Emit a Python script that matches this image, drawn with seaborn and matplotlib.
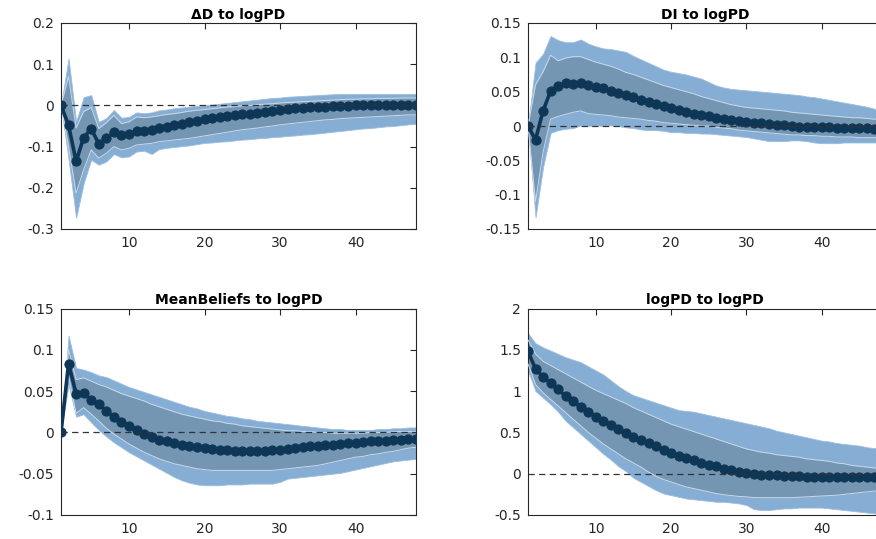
import matplotlib
matplotlib.use("Agg")
import numpy as np
import pandas as pd
import seaborn as sns
import matplotlib.pyplot as plt
from matplotlib.ticker import FuncFormatter

# ---------------- data ----------------
horizon = list(range(1, 49))

titles = ["\u0394D to logPD", "DI to logPD", "MeanBeliefs to logPD", "logPD to logPD"]

# Panel 1: dD to logPD
med1 = [0, -0.048, -0.136, -0.078, -0.057, -0.093, -0.080, -0.065, -0.072, -0.070,
        -0.062, -0.061, -0.059, -0.055, -0.052, -0.048, -0.045, -0.041, -0.037, -0.034,
        -0.031, -0.029, -0.026, -0.024, -0.022, -0.020, -0.018, -0.016, -0.013, -0.011,
        -0.009, -0.007, -0.006, -0.005, -0.004, -0.003, -0.002, -0.001, -0.001, 0.000,
        0.000, 0.000, 0.001, 0.001, 0.001, 0.001, 0.001, 0.001]
in_hi1 = [0, 0.070, -0.055, -0.015, -0.005, -0.056, -0.042, -0.024, -0.044, -0.040,
          -0.028, -0.030, -0.028, -0.025, -0.022, -0.020, -0.017, -0.014, -0.012, -0.010,
          -0.008, -0.006, -0.004, -0.003, -0.001, 0.000, 0.002, 0.003, 0.004, 0.006,
          0.007, 0.008, 0.009, 0.010, 0.011, 0.012, 0.013, 0.014, 0.015, 0.015,
          0.016, 0.016, 0.017, 0.017, 0.017, 0.018, 0.018, 0.018]
in_lo1 = [0, -0.100, -0.213, -0.156, -0.108, -0.128, -0.116, -0.100, -0.108, -0.104,
          -0.096, -0.094, -0.092, -0.088, -0.086, -0.084, -0.082, -0.080, -0.077, -0.074,
          -0.071, -0.068, -0.065, -0.062, -0.059, -0.057, -0.055, -0.052, -0.050, -0.047,
          -0.045, -0.043, -0.041, -0.039, -0.037, -0.035, -0.034, -0.032, -0.031, -0.030,
          -0.029, -0.028, -0.027, -0.026, -0.025, -0.024, -0.023, -0.023]
out_hi1 = [0, 0.114, -0.040, 0.020, 0.025, -0.040, -0.031, -0.011, -0.030, -0.028,
           -0.017, -0.019, -0.017, -0.012, -0.010, -0.007, -0.005, -0.003, -0.001, 0.000,
           0.002, 0.004, 0.006, 0.008, 0.010, 0.012, 0.014, 0.016, 0.018, 0.019,
           0.021, 0.022, 0.023, 0.024, 0.025, 0.026, 0.027, 0.028, 0.028, 0.028,
           0.028, 0.028, 0.028, 0.028, 0.028, 0.028, 0.028, 0.028]
out_lo1 = [0, -0.130, -0.273, -0.189, -0.132, -0.144, -0.136, -0.118, -0.126, -0.124,
           -0.112, -0.110, -0.118, -0.106, -0.103, -0.101, -0.099, -0.097, -0.094, -0.091,
           -0.090, -0.088, -0.087, -0.085, -0.083, -0.082, -0.080, -0.079, -0.077, -0.076,
           -0.074, -0.073, -0.071, -0.070, -0.068, -0.066, -0.064, -0.062, -0.060, -0.058,
           -0.056, -0.055, -0.053, -0.051, -0.050, -0.048, -0.046, -0.045]

# Panel 2: DI to logPD
med2 = [0, -0.020, 0.022, 0.051, 0.058, 0.062, 0.061, 0.063, 0.060, 0.057,
        0.055, 0.051, 0.048, 0.045, 0.042, 0.038, 0.035, 0.032, 0.029, 0.026,
        0.023, 0.021, 0.018, 0.016, 0.014, 0.012, 0.010, 0.009, 0.007, 0.006,
        0.005, 0.004, 0.003, 0.002, 0.001, 0.000, -0.001, -0.001, -0.002, -0.002,
        -0.002, -0.003, -0.003, -0.003, -0.003, -0.003, -0.004, -0.004]
in_hi2 = [0, 0.060, 0.079, 0.103, 0.095, 0.099, 0.101, 0.101, 0.097, 0.093,
          0.090, 0.087, 0.083, 0.078, 0.075, 0.071, 0.067, 0.063, 0.059, 0.056,
          0.053, 0.050, 0.047, 0.043, 0.040, 0.037, 0.034, 0.031, 0.029, 0.027,
          0.026, 0.025, 0.024, 0.023, 0.022, 0.020, 0.019, 0.018, 0.017, 0.016,
          0.015, 0.014, 0.013, 0.012, 0.012, 0.011, 0.010, 0.009]
in_lo2 = [0, -0.110, -0.038, 0.010, 0.014, 0.017, 0.020, 0.022, 0.018, 0.017,
          0.016, 0.015, 0.013, 0.012, 0.011, 0.010, 0.008, 0.007, 0.005, 0.004,
          0.003, 0.002, 0.001, 0.000, 0.000, -0.002, -0.003, -0.004, -0.006, -0.007,
          -0.008, -0.009, -0.010, -0.011, -0.012, -0.013, -0.013, -0.014, -0.014, -0.015,
          -0.015, -0.016, -0.016, -0.016, -0.017, -0.017, -0.017, -0.017]
out_hi2 = [0, 0.092, 0.105, 0.131, 0.125, 0.122, 0.122, 0.126, 0.120, 0.116,
           0.113, 0.112, 0.110, 0.108, 0.102, 0.097, 0.092, 0.087, 0.082, 0.079,
           0.077, 0.075, 0.072, 0.069, 0.064, 0.059, 0.056, 0.054, 0.053, 0.052,
           0.051, 0.050, 0.049, 0.048, 0.047, 0.046, 0.045, 0.043, 0.042, 0.040,
           0.038, 0.036, 0.034, 0.032, 0.030, 0.028, 0.025, 0.023]
out_lo2 = [0, -0.133, -0.060, -0.010, -0.006, -0.004, -0.003, 0.001, 0.000, 0.001,
           0.000, 0.001, 0.000, -0.002, -0.003, -0.005, -0.006, -0.006, -0.007, -0.009,
           -0.009, -0.010, -0.010, -0.011, -0.011, -0.012, -0.013, -0.014, -0.015, -0.016,
           -0.018, -0.020, -0.022, -0.022, -0.022, -0.021, -0.021, -0.022, -0.024, -0.025,
           -0.025, -0.025, -0.024, -0.024, -0.024, -0.024, -0.024, -0.024]

# Panel 3: MeanBeliefs to logPD
med3 = [0, 0.083, 0.047, 0.048, 0.039, 0.034, 0.026, 0.019, 0.013, 0.008,
        0.003, -0.002, -0.006, -0.009, -0.011, -0.013, -0.015, -0.017, -0.018, -0.019,
        -0.020, -0.021, -0.021, -0.022, -0.022, -0.022, -0.022, -0.022, -0.021, -0.021,
        -0.020, -0.019, -0.018, -0.017, -0.016, -0.015, -0.015, -0.014, -0.013, -0.013,
        -0.012, -0.011, -0.011, -0.010, -0.009, -0.009, -0.008, -0.008]
in_hi3 = [0, 0.100, 0.064, 0.066, 0.062, 0.058, 0.055, 0.051, 0.047, 0.044,
          0.041, 0.038, 0.034, 0.031, 0.028, 0.025, 0.022, 0.020, 0.018, 0.016,
          0.014, 0.013, 0.011, 0.010, 0.008, 0.007, 0.006, 0.005, 0.004, 0.003,
          0.002, 0.002, 0.001, 0.001, 0.000, 0.000, -0.001, -0.001, -0.001, -0.001,
          -0.001, 0.000, 0.000, 0.000, 0.001, 0.001, 0.001, 0.001]
in_lo3 = [0, 0.068, 0.023, 0.030, 0.022, 0.014, 0.005, -0.002, -0.008, -0.014,
          -0.019, -0.024, -0.028, -0.032, -0.035, -0.038, -0.040, -0.042, -0.044, -0.045,
          -0.046, -0.046, -0.046, -0.046, -0.046, -0.046, -0.046, -0.046, -0.046, -0.045,
          -0.044, -0.043, -0.042, -0.041, -0.040, -0.038, -0.036, -0.034, -0.032, -0.030,
          -0.029, -0.027, -0.026, -0.024, -0.023, -0.021, -0.019, -0.018]
out_hi3 = [0, 0.117, 0.078, 0.076, 0.073, 0.069, 0.067, 0.063, 0.059, 0.055,
           0.052, 0.049, 0.046, 0.043, 0.040, 0.037, 0.034, 0.031, 0.029, 0.026,
           0.024, 0.022, 0.020, 0.019, 0.017, 0.016, 0.014, 0.013, 0.012, 0.011,
           0.010, 0.009, 0.008, 0.007, 0.006, 0.005, 0.004, 0.004, 0.003, 0.003,
           0.003, 0.003, 0.004, 0.004, 0.005, 0.005, 0.006, 0.006]
out_lo3 = [0, 0.058, 0.019, 0.022, 0.012, 0.003, -0.005, -0.012, -0.018, -0.024,
           -0.029, -0.034, -0.039, -0.044, -0.049, -0.054, -0.058, -0.061, -0.063, -0.064,
           -0.064, -0.064, -0.063, -0.063, -0.063, -0.062, -0.062, -0.062, -0.062, -0.060,
           -0.056, -0.055, -0.054, -0.053, -0.052, -0.051, -0.050, -0.049, -0.047, -0.045,
           -0.043, -0.041, -0.039, -0.037, -0.035, -0.034, -0.033, -0.032]

# Panel 4: logPD to logPD
med4 = [1.48, 1.27, 1.17, 1.10, 1.02, 0.94, 0.88, 0.81, 0.75, 0.69,
        0.64, 0.59, 0.54, 0.49, 0.45, 0.41, 0.37, 0.33, 0.29, 0.25,
        0.22, 0.19, 0.16, 0.13, 0.11, 0.09, 0.06, 0.04, 0.02, 0.01,
        0.00, -0.01, -0.015, -0.02, -0.025, -0.03, -0.03, -0.035, -0.035, -0.04,
        -0.04, -0.04, -0.045, -0.045, -0.045, -0.045, -0.045, -0.045]
in_hi4 = [1.62, 1.45, 1.36, 1.31, 1.26, 1.21, 1.16, 1.11, 1.06, 1.01,
          0.97, 0.93, 0.89, 0.85, 0.80, 0.76, 0.72, 0.68, 0.64, 0.60,
          0.57, 0.54, 0.51, 0.48, 0.45, 0.42, 0.39, 0.36, 0.33, 0.30,
          0.28, 0.26, 0.25, 0.23, 0.22, 0.21, 0.20, 0.18, 0.17, 0.16,
          0.15, 0.13, 0.12, 0.10, 0.09, 0.08, 0.07, 0.06]
in_lo4 = [1.33, 1.08, 0.98, 0.90, 0.82, 0.74, 0.66, 0.58, 0.50, 0.43,
          0.36, 0.30, 0.24, 0.18, 0.13, 0.08, 0.02, -0.03, -0.07, -0.10,
          -0.13, -0.16, -0.18, -0.20, -0.22, -0.24, -0.255, -0.265, -0.275, -0.28,
          -0.29, -0.29, -0.29, -0.29, -0.29, -0.29, -0.285, -0.28, -0.275, -0.27,
          -0.265, -0.26, -0.25, -0.24, -0.23, -0.22, -0.21, -0.20]
out_hi4 = [1.70, 1.58, 1.53, 1.49, 1.45, 1.41, 1.38, 1.35, 1.30, 1.25,
           1.20, 1.13, 1.06, 1.00, 0.95, 0.92, 0.89, 0.86, 0.83, 0.80,
           0.77, 0.76, 0.75, 0.73, 0.71, 0.69, 0.67, 0.65, 0.63, 0.61,
           0.59, 0.57, 0.55, 0.52, 0.50, 0.48, 0.46, 0.44, 0.42, 0.40,
           0.39, 0.37, 0.36, 0.35, 0.34, 0.32, 0.31, 0.30]
out_lo4 = [1.25, 1.00, 0.92, 0.84, 0.75, 0.64, 0.56, 0.48, 0.40, 0.32,
           0.24, 0.17, 0.09, 0.03, -0.05, -0.10, -0.15, -0.20, -0.24, -0.26,
           -0.28, -0.30, -0.31, -0.32, -0.33, -0.34, -0.34, -0.35, -0.36, -0.38,
           -0.43, -0.44, -0.44, -0.43, -0.42, -0.42, -0.41, -0.41, -0.41, -0.41,
           -0.42, -0.43, -0.44, -0.45, -0.46, -0.47, -0.48, -0.50]

yticks1 = [-0.3, -0.2, -0.1, 0, 0.1, 0.2]
yticks2 = [-0.15, -0.1, -0.05, 0, 0.05, 0.1, 0.15]
yticks3 = [-0.1, -0.05, 0, 0.05, 0.1, 0.15]
yticks4 = [-0.5, 0, 0.5, 1, 1.5, 2]
xticks = [10, 20, 30, 40]

panels = [
    (titles[0], med1, in_lo1, in_hi1, out_lo1, out_hi1, yticks1),
    (titles[1], med2, in_lo2, in_hi2, out_lo2, out_hi2, yticks2),
    (titles[2], med3, in_lo3, in_hi3, out_lo3, out_hi3, yticks3),
    (titles[3], med4, in_lo4, in_hi4, out_lo4, out_hi4, yticks4),
]

# ---------------- style ----------------
sns.set_theme(style="white")
plt.rcParams["font.family"] = ["DejaVu Sans"]
plt.rcParams["font.stretch"] = "normal"
plt.rcParams["axes.unicode_minus"] = False

OUTER = "#86AED4"
INNER = "#7596B2"
EDGE = "#C9D9E8"
NAVY = "#0E3657"
AXC = "#262626"

W, H = 876, 539
fig = plt.figure(figsize=(W / 100, H / 100), dpi=100)
fig.patch.set_facecolor("white")

# axes boxes in pixels: (left, top, right, bottom)
boxes = [(61, 23, 416, 229), (528, 23, 882, 229),
         (61, 308.5, 416, 515), (528, 308.5, 882, 515)]

fmt = FuncFormatter(lambda v, _: f"{v:g}")

for (title, med, ilo, ihi, olo, ohi, yt), (l, t, r, b) in zip(panels, boxes):
    ax = fig.add_axes([l / W, (H - b) / H, (r - l) / W, (b - t) / H])
    ax.set_facecolor("white")
    ax.fill_between(horizon, olo, ohi, color=OUTER, lw=0.6, edgecolor="#9DBEDD", zorder=1)
    ax.fill_between(horizon, ilo, ihi, color=INNER, lw=0, zorder=2)
    ax.plot(horizon, ihi, color=EDGE, lw=0.7, zorder=3)
    ax.plot(horizon, ilo, color=EDGE, lw=0.7, zorder=3)
    df = pd.DataFrame({"h": horizon, "irf": med})
    sns.lineplot(data=df, x="h", y="irf", ax=ax, color=NAVY, lw=2.6,
                 marker="o", markersize=6.6, markeredgecolor=NAVY,
                 markerfacecolor=NAVY, zorder=4)
    ax.axhline(0, color="#333333", lw=0.9, ls=(0, (5, 3.5)), zorder=5)
    ax.set_xlim(1, 48)
    ax.set_ylim(yt[0], yt[-1])
    ax.set_xticks(xticks)
    ax.set_yticks(yt)
    ax.yaxis.set_major_formatter(fmt)
    ax.set_xlabel("")
    ax.set_ylabel("")
    ax.tick_params(direction="in", top=True, right=True, length=4, width=0.8,
                   colors=AXC, labelsize=10, pad=5)
    for s in ax.spines.values():
        s.set_visible(True)
        s.set_color(AXC)
        s.set_linewidth(0.8)
    ax.set_title(title, fontweight="bold", fontsize=10, pad=3, color="black")

fig.savefig("out.png", dpi=100, facecolor="white")
